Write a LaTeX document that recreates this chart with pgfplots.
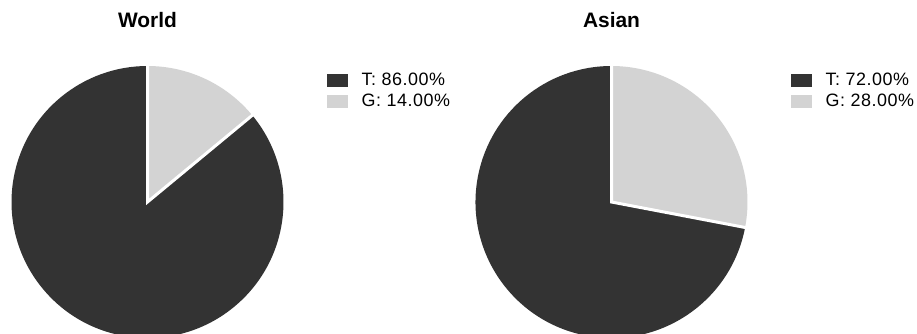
\documentclass[border=0pt]{standalone}
\usepackage{pgfplots}
\usepackage{pgfplotstable}
\pgfplotsset{compat=1.18}
\usepackage{fontspec}
\setmainfont{Liberation Sans}
\definecolor{tdark}{HTML}{333333}
\definecolor{glight}{HTML}{D3D3D3}

\pgfplotstableread{
region T G
World 86 14
Asian 72 28
}\piedata

\pgfplotsset{
  pieaxis/.style={
    width=272bp, height=272bp, scale only axis,
    xmin=-1, xmax=1, ymin=-1, ymax=1,
    hide axis, clip=false, anchor=center,
    title style={at={(axis description cs:0.5,1)}, anchor=base, yshift=32.7bp, inner sep=0pt,
      font=\fontsize{21}{25}\selectfont\bfseries},
    legend cell align=left,
    legend style={at={(axis description cs:1.159,0.978)}, anchor=north west,
      draw=none, fill=none, inner sep=0pt, row sep=4bp,
      font=\fontsize{18}{21}\selectfont\addfontfeature{LetterSpace=3},
      nodes={inner sep=0pt, text height=13bp, text depth=4bp},
      /tikz/every odd column/.append style={column sep=14.3bp}},
  },
  tleg/.style={legend image code/.code={\fill[tdark] (0bp,-6bp) rectangle (20bp,6bp);}},
  gleg/.style={legend image code/.code={\fill[glight] (0bp,-6bp) rectangle (20bp,6bp);}},
}
\newcommand\pct[1]{\pgfmathprintnumber[fixed,fixed zerofill,precision=2,assume math mode=true]{#1}\%}
\pgfplotstablegetelem{0}{G}\of\piedata \edef\gw{\pgfplotsretval}%
\pgfplotstablegetelem{0}{T}\of\piedata \edef\tw{\pgfplotsretval}%
\pgfplotstablegetelem{1}{G}\of\piedata \edef\ga{\pgfplotsretval}%
\pgfplotstablegetelem{1}{T}\of\piedata \edef\ta{\pgfplotsretval}%
\pgfmathsetmacro\angw{90-3.6*\gw}%
\pgfmathsetmacro\anga{90-3.6*\ga}%
\pgfmathsetmacro\xw{cos(\angw)}\pgfmathsetmacro\yw{sin(\angw)}%
\pgfmathsetmacro\xa{cos(\anga)}\pgfmathsetmacro\ya{sin(\anga)}%
\pgfmathsetmacro\xwo{1.01*\xw}\pgfmathsetmacro\ywo{1.01*\yw}%
\pgfmathsetmacro\xao{1.01*\xa}\pgfmathsetmacro\yao{1.01*\ya}%

\begin{document}%
\begin{tikzpicture}
\useasboundingbox (0bp,0bp) rectangle (917bp,334bp);
\begin{axis}[pieaxis, at={(147.5bp,132bp)}, title={World}]
\addlegendimage{tleg}\addlegendentry{T: \pct{\tw}}
\addlegendimage{gleg}\addlegendentry{G: \pct{\gw}}
\fill[glight] (axis cs:0,0) -- (axis cs:0,1) arc[start angle=90, end angle=\angw, radius=136bp] -- cycle;
\fill[tdark] (axis cs:0,0) -- (axis cs:\xw,\yw) arc[start angle=\angw, end angle=-270, radius=136bp] -- cycle;
\draw[white, line width=3bp] (axis cs:0,1.01) -- (axis cs:0,0) -- (axis cs:\xwo,\ywo);
\end{axis}
\begin{axis}[pieaxis, at={(611.5bp,132bp)}, title={Asian}]
\addlegendimage{tleg}\addlegendentry{T: \pct{\ta}}
\addlegendimage{gleg}\addlegendentry{G: \pct{\ga}}
\fill[glight] (axis cs:0,0) -- (axis cs:0,1) arc[start angle=90, end angle=\anga, radius=136bp] -- cycle;
\fill[tdark] (axis cs:0,0) -- (axis cs:\xa,\ya) arc[start angle=\anga, end angle=-270, radius=136bp] -- cycle;
\draw[white, line width=3bp] (axis cs:0,1.01) -- (axis cs:0,0) -- (axis cs:\xao,\yao);
\end{axis}
\end{tikzpicture}%
\end{document}
